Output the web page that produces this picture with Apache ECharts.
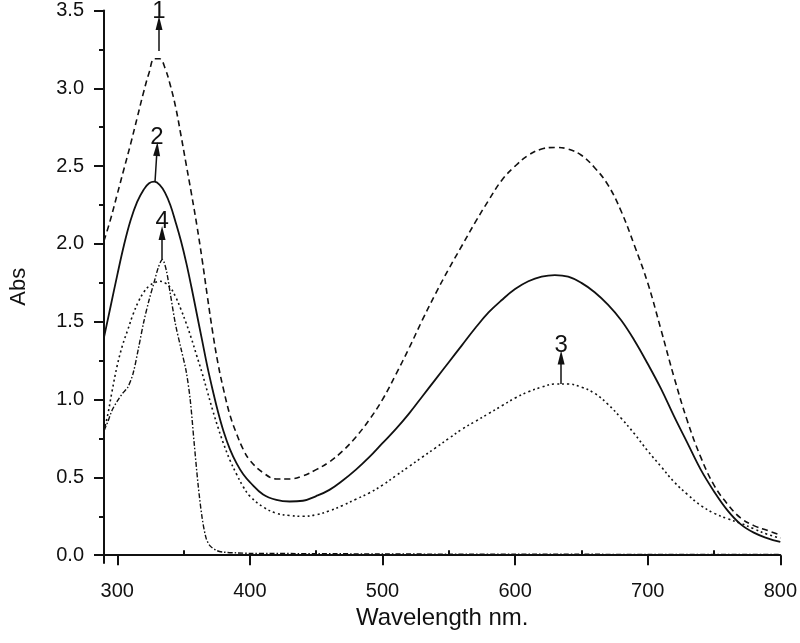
<!DOCTYPE html>
<html>
<head>
<meta charset="utf-8">
<script src="https://cdn.jsdelivr.net/npm/echarts@6/dist/echarts.min.js"></script>
<style>
  html, body { margin: 0; padding: 0; background: #fff; }
  #chart { width: 800px; height: 643px; }
</style>
</head>
<body>
<div id="chart"></div>
<script>
  // curve 1 (dashed)
  const wl1 = [290, 295, 300, 305, 310, 315, 320, 324, 328, 332, 336, 340, 344, 348, 352, 356, 360, 364, 368, 372, 376, 380, 385, 390, 395, 400, 410, 420, 430, 440, 450, 460, 470, 480, 490, 500, 510, 520, 530, 540, 550, 560, 570, 580, 590, 600, 610, 620, 630, 640, 650, 660, 670, 680, 690, 700, 710, 720, 730, 740, 750, 760, 770, 780, 790, 800]
  const abs1 = [2.02, 2.16, 2.32, 2.48, 2.64, 2.81, 2.98, 3.10, 3.19, 3.19, 3.13, 3.02, 2.88, 2.70, 2.51, 2.32, 2.12, 1.90, 1.66, 1.43, 1.23, 1.07, 0.90, 0.78, 0.68, 0.61, 0.53, 0.49, 0.49, 0.51, 0.55, 0.60, 0.67, 0.76, 0.87, 1.00, 1.16, 1.33, 1.51, 1.68, 1.84, 1.99, 2.14, 2.28, 2.41, 2.50, 2.57, 2.61, 2.62, 2.61, 2.57, 2.49, 2.38, 2.21, 1.99, 1.75, 1.45, 1.14, 0.86, 0.63, 0.45, 0.33, 0.24, 0.19, 0.16, 0.13]

  // curve 2 (solid)
  const wl2 = [290, 295, 300, 305, 310, 315, 320, 324, 328, 332, 336, 340, 344, 348, 352, 356, 360, 364, 368, 372, 376, 380, 385, 390, 395, 400, 410, 420, 430, 440, 450, 460, 470, 480, 490, 500, 510, 520, 530, 540, 550, 560, 570, 580, 590, 600, 610, 620, 630, 640, 650, 660, 670, 680, 690, 700, 710, 720, 730, 740, 750, 760, 770, 780, 790, 800]
  const abs2 = [1.40, 1.60, 1.80, 1.99, 2.15, 2.27, 2.35, 2.39, 2.40, 2.38, 2.33, 2.25, 2.14, 2.02, 1.88, 1.72, 1.55, 1.38, 1.21, 1.06, 0.92, 0.80, 0.68, 0.59, 0.52, 0.47, 0.39, 0.355, 0.345, 0.35, 0.38, 0.42, 0.48, 0.55, 0.63, 0.72, 0.81, 0.91, 1.02, 1.13, 1.24, 1.35, 1.46, 1.56, 1.64, 1.71, 1.76, 1.79, 1.80, 1.79, 1.75, 1.69, 1.61, 1.51, 1.38, 1.23, 1.07, 0.89, 0.72, 0.55, 0.41, 0.29, 0.20, 0.145, 0.11, 0.085]

  // curve 3 (dotted)
  const wl3 = [290, 293, 296, 300, 304, 308, 312, 316, 320, 324, 328, 332, 336, 340, 344, 348, 352, 356, 360, 364, 368, 372, 376, 380, 385, 390, 395, 400, 410, 420, 430, 440, 450, 460, 470, 480, 490, 500, 510, 520, 530, 540, 550, 560, 570, 580, 590, 600, 610, 620, 630, 640, 650, 660, 670, 680, 690, 700, 710, 720, 730, 740, 750, 760, 770, 780, 790, 800]
  const abs3 = [0.80, 0.91, 1.05, 1.22, 1.35, 1.45, 1.55, 1.63, 1.69, 1.73, 1.75, 1.76, 1.75, 1.72, 1.66, 1.58, 1.49, 1.39, 1.28, 1.17, 1.05, 0.93, 0.82, 0.72, 0.61, 0.52, 0.44, 0.38, 0.31, 0.27, 0.255, 0.25, 0.26, 0.285, 0.32, 0.36, 0.40, 0.45, 0.51, 0.57, 0.63, 0.69, 0.75, 0.81, 0.86, 0.91, 0.96, 1.01, 1.05, 1.08, 1.10, 1.10, 1.08, 1.04, 0.97, 0.88, 0.78, 0.67, 0.57, 0.47, 0.39, 0.32, 0.27, 0.235, 0.205, 0.17, 0.135, 0.11]

  // curve 4 (dash-dot)
  const wl4 = [290, 293, 296, 300, 304, 308, 312, 316, 320, 324, 328, 331, 334, 337, 340, 344, 348, 352, 355, 358, 361, 364, 367, 370, 375, 380, 390, 400, 450, 500, 550, 600, 650, 700, 750, 800]
  const abs4 = [0.80, 0.86, 0.93, 0.99, 1.04, 1.08, 1.17, 1.33, 1.50, 1.64, 1.76, 1.85, 1.90, 1.83, 1.68, 1.48, 1.33, 1.18, 1.00, 0.72, 0.45, 0.24, 0.11, 0.06, 0.03, 0.02, 0.015, 0.012, 0.01, 0.008, 0.007, 0.006, 0.006, 0.005, 0.005, 0.005]

  // arrows with curve numbers
  const annoLabels = ['1', '2', '3', '4']
  const annoBaseX = [331.5, 328.5, 634.7, 333.8]
  const annoBaseY = [3.24, 2.40, 1.10, 1.90]
  const annoTipX = [331.5, 330.0, 634.7, 333.8]
  const annoTipY = [3.42, 2.61, 1.27, 2.07]

  // ticks
  const yMajor = [0, 0.5, 1.0, 1.5, 2.0, 2.5, 3.0, 3.5]
  const yMinor = [0.25, 0.75, 1.25, 1.75, 2.25, 2.75, 3.25]
  const xMajor = [300, 400, 500, 600, 700, 800]
  const xMinor = [350, 450, 550, 650, 750]

  const zip = (xs, ys) => xs.map((x, i) => [x, ys[i]])
  const ink = '#111'
  const font = 'Liberation Sans, Arial, sans-serif'

  function arrow(i) {
    return {
      silent: true,
      symbol: ['none', 'triangle'],
      symbolSize: [7, 14],
      lineStyle: { color: ink, width: 1.5, type: 'solid' },
      itemStyle: { color: ink },
      label: {
        show: true,
        position: 'end',
        distance: 0,
        formatter: annoLabels[i],
        color: ink,
        fontSize: 24,
        fontFamily: font
      },
      emphasis: { disabled: true },
      data: [[{ coord: [annoBaseX[i], annoBaseY[i]] }, { coord: [annoTipX[i], annoTipY[i]] }]]
    }
  }

  const chart = echarts.init(document.getElementById('chart'))
  const axisBase = {
    type: 'value',
    splitLine: { show: false }
  }

  chart.setOption({
    animation: false,
    grid: { left: 103, right: 17, top: 10.5, bottom: 80 },
    xAxis: [
      Object.assign({}, axisBase, {
        min: 290,
        max: 800,
        name: 'Wavelength nm.',
        nameLocation: 'middle',
        nameGap: 35,
        nameTextStyle: { color: ink, fontSize: 24, fontFamily: font },
        axisLine: { show: true, lineStyle: { color: ink, width: 2 } },
        axisTick: { show: true, length: 10, customValues: xMajor, lineStyle: { color: ink, width: 2 } },
        axisLabel: { customValues: xMajor, margin: 18, color: ink, fontSize: 20, fontFamily: font }
      }),
      Object.assign({}, axisBase, {
        min: 290,
        max: 800,
        axisLine: { show: false },
        axisTick: { show: true, length: 5, customValues: xMinor, lineStyle: { color: ink, width: 2 } },
        axisLabel: { show: false }
      })
    ],
    yAxis: [
      Object.assign({}, axisBase, {
        min: -0.05,
        max: 3.5,
        name: 'Abs',
        nameLocation: 'middle',
        nameGap: 74,
        nameTextStyle: { color: ink, fontSize: 22, fontFamily: font },
        axisLine: { show: true, lineStyle: { color: ink, width: 2 } },
        axisTick: { show: true, length: 10, customValues: yMajor, lineStyle: { color: ink, width: 2 } },
        axisLabel: {
          customValues: yMajor,
          margin: 20,
          color: ink,
          fontSize: 20,
          fontFamily: font,
          formatter: v => v.toFixed(1)
        }
      }),
      Object.assign({}, axisBase, {
        min: -0.05,
        max: 3.5,
        position: 'left',
        axisLine: { show: false },
        axisTick: { show: true, length: 5, customValues: yMinor, lineStyle: { color: ink, width: 2 } },
        axisLabel: { show: false }
      })
    ],
    series: [
      {
        type: 'line', name: '1', data: zip(wl1, abs1), smooth: 0.4, showSymbol: false,
        lineStyle: { color: ink, width: 1.6, type: [6, 4] },
        markLine: arrow(0)
      },
      {
        type: 'line', name: '2', data: zip(wl2, abs2), smooth: 0.4, showSymbol: false,
        lineStyle: { color: ink, width: 1.8, type: 'solid' },
        markLine: arrow(1)
      },
      {
        type: 'line', name: '3', data: zip(wl3, abs3), smooth: 0.4, showSymbol: false,
        lineStyle: { color: ink, width: 1.6, type: [2, 3] },
        markLine: arrow(2)
      },
      {
        type: 'line', name: '4', data: zip(wl4, abs4), smooth: 0.3, showSymbol: false,
        lineStyle: { color: ink, width: 1.4, type: [5, 2, 1.5, 2] },
        markLine: arrow(3)
      }
    ]
  })
</script>
</body>
</html>
